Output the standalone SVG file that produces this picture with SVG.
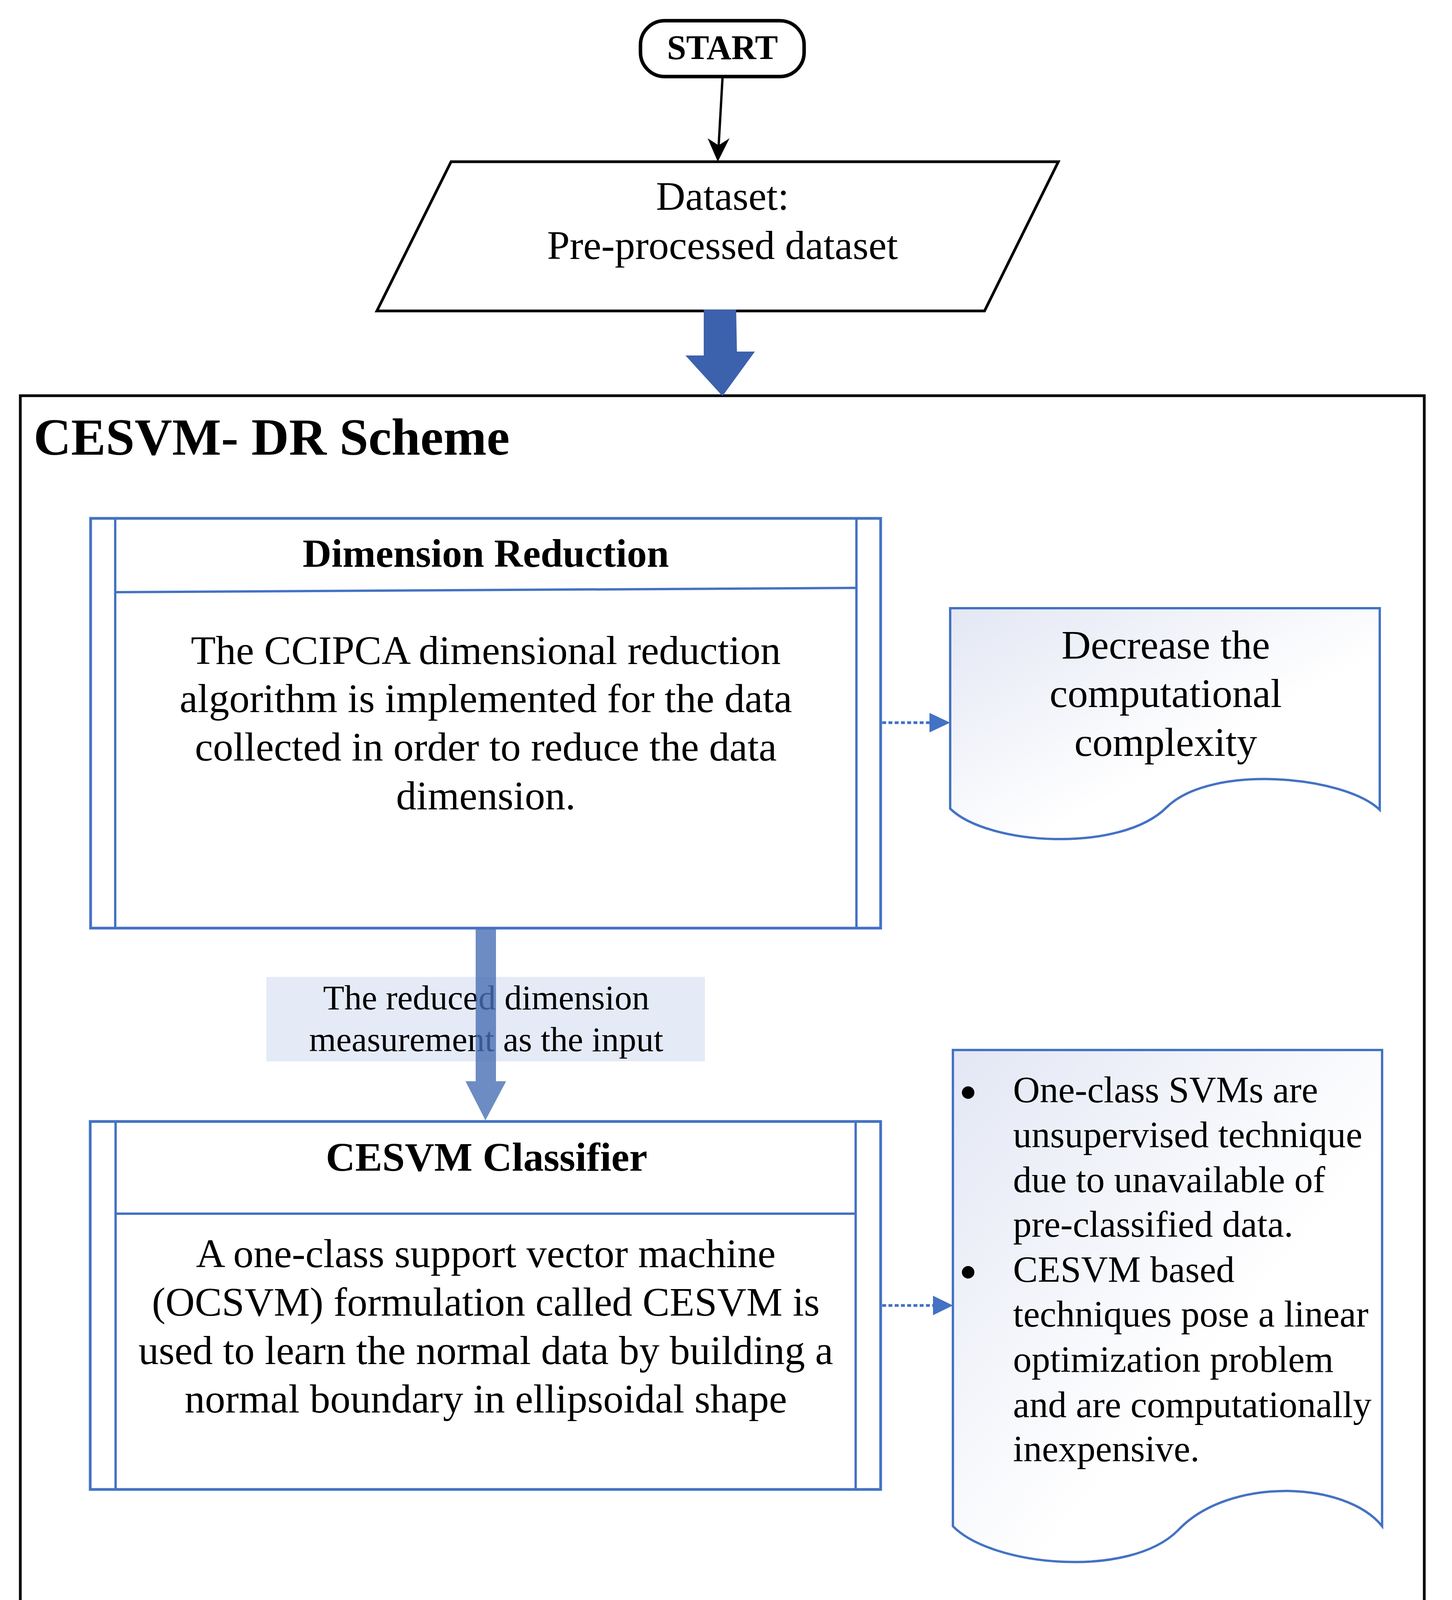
<svg xmlns="http://www.w3.org/2000/svg" width="3718" height="5249" viewBox="0 0 3718 5249">
<defs>
<linearGradient id="docGrad" x1="0" y1="0" x2="1" y2="1">
<stop offset="0" stop-color="#E3E7F4"/>
<stop offset="0.6" stop-color="#FFFFFF"/>
</linearGradient>
<style>
text { font-family: "Liberation Serif", "Times New Roman", serif; fill: #000; }
.b { font-weight: bold; }
.m { text-anchor: middle; }
.t104 { font-size: 104px; }
.blkbox { fill: #fff; stroke: #000; }
.bluebox { fill: #fff; stroke: #4472C4; stroke-width: 7; }
.blueline { fill: none; stroke: #4472C4; stroke-width: 6; }
.doc { fill: url(#docGrad); stroke: #4472C4; stroke-width: 6; }
.dot { fill: none; stroke: #4472C4; stroke-width: 7; stroke-dasharray: 10 6; }
.conn { fill: none; stroke: #000; }
.bluehead { fill: #4472C4; }
</style>
</defs>
<rect x="0" y="0" width="3718" height="5249" fill="#fff"/>

<g id="scheme">
<rect x="52" y="1013" width="3595" height="3204" fill="none" stroke="#000" stroke-width="7"/>
<text x="86" y="1164" class="b" font-size="133">CESVM- DR Scheme</text>
</g>

<g id="start">
<rect x="1640" y="53" width="419" height="143" rx="62" ry="62" class="blkbox" stroke-width="9"/>
<text x="1850" y="151" class="b m" font-size="88">START</text>
</g>

<g id="dataset">
<polygon points="1155,414 2710,414 2521,796 965,796" class="blkbox" stroke-width="7"/>
<text x="1850" y="537" class="m t104">Dataset:</text>
<text x="1850" y="663" class="m t104">Pre-processed dataset</text>
</g>

<g id="dimension-reduction">
<rect x="232" y="1327" width="2023" height="1049" class="bluebox"/>
<line x1="295" y1="1327" x2="295" y2="2376" class="blueline"/>
<line x1="2193" y1="1327" x2="2193" y2="2376" class="blueline"/>
<line x1="295" y1="1516" x2="2193" y2="1505" class="blueline" stroke-width="7"/>
<text x="1244" y="1451" class="b m" font-size="102">Dimension Reduction</text>
<text x="1244" y="1700" class="m t104">The CCIPCA dimensional reduction</text>
<text x="1244" y="1823" class="m t104">algorithm is implemented for the data</text>
<text x="1244" y="1947" class="m t104">collected in order to reduce the data</text>
<text x="1244" y="2072" class="m t104">dimension.</text>
</g>

<g id="decrease-note">
<path d="M2433,1557 L3533,1557 L3533,2073 C3440,1985 3100,1955 2987,2067 C2870,2184 2530,2165 2433,2070 Z" class="doc"/>
<text x="2985" y="1686" class="m t104">Decrease the</text>
<text x="2985" y="1810" class="m t104">computational</text>
<text x="2985" y="1935" class="m t104">complexity</text>
</g>

<g id="cesvm-classifier">
<rect x="231" y="2871" width="2024" height="942" class="bluebox"/>
<line x1="296" y1="2871" x2="296" y2="3813" class="blueline"/>
<line x1="2191" y1="2871" x2="2191" y2="3813" class="blueline"/>
<line x1="296" y1="3107" x2="2191" y2="3107" class="blueline" stroke-width="7"/>
<text x="1246" y="2997" class="b m" font-size="104">CESVM Classifier</text>
<text x="1244" y="3244" class="m t104">A one-class support vector machine</text>
<text x="1244" y="3368" class="m t104">(OCSVM) formulation called CESVM is</text>
<text x="1244" y="3492" class="m t104">used to learn the normal data by building a</text>
<text x="1244" y="3616" class="m t104">normal boundary in ellipsoidal shape</text>
</g>

<g id="svm-note">
<path d="M2440,2688 L3539,2688 L3539,3907 C3445,3790 3145,3780 3016,3918 C2891,4043 2540,4010 2440,3907 Z" class="doc"/>
<circle cx="2479" cy="2797" r="16" fill="#000"/>
<circle cx="2479" cy="3257" r="16" fill="#000"/>
<g font-size="95">
<text x="2594" y="2822">One-class SVMs are</text>
<text x="2594" y="2937">unsupervised technique</text>
<text x="2594" y="3052">due to unavailable of</text>
<text x="2594" y="3166">pre-classified data.</text>
<text x="2594" y="3282">CESVM based</text>
<text x="2594" y="3396">techniques pose a linear</text>
<text x="2594" y="3512">optimization problem</text>
<text x="2594" y="3628">and are computationally</text>
<text x="2594" y="3741">inexpensive.</text>
</g>
</g>

<g id="classification">
<polygon points="1850,4360 2407,4547 1850,4732 1290,4547" class="blkbox" stroke-width="9"/>
<text x="1853" y="4578" class="b m" font-size="87">Classification</text>
</g>

<g id="anomalies">
<rect x="2793" y="4312" width="747" height="471" class="blkbox" stroke-width="11"/>
<text x="3168" y="4525" class="b m" font-size="88">Anomalies</text>
<text x="3168" y="4632" class="b m" font-size="86">(Need Response)</text>
</g>

<g id="end">
<rect x="1629" y="5049" width="425" height="142" rx="62" ry="62" class="blkbox" stroke-width="10"/>
<text x="1843" y="5152" class="m" font-size="87">END</text>
</g>

<g id="connectors">
<line x1="1850" y1="200" x2="1840" y2="376" class="conn" stroke-width="6"/>
<path d="M1838,414 L1812,354 L1840,372 L1868,354 Z" fill="#000"/>
<polygon points="1802,793 1885,793 1887,900 1933,900 1850,1014 1755,910 1802,910" fill="#3C61AD"/>
<line x1="2259" y1="1850" x2="2382" y2="1850" class="dot"/>
<polygon points="2380,1825 2433,1850 2380,1875" class="bluehead"/>
<rect x="682" y="2501" width="1123" height="216" fill="#E4EAF6"/>
<text x="1245" y="2584" class="m" font-size="89">The reduced dimension</text>
<text x="1245" y="2691" class="m" font-size="89">measurement as the input</text>
<polygon points="1218,2376 1270,2376 1270,2768 1296,2768 1243,2868 1192,2768 1218,2768" fill="#4A6FB5" fill-opacity="0.8"/>
<line x1="2259" y1="3342" x2="2391" y2="3342" class="dot"/>
<polygon points="2389,3317 2440,3342 2389,3367" class="bluehead"/>
<line x1="1850" y1="4217" x2="1850" y2="4318" class="conn" stroke-width="7"/>
<polygon points="1824,4313 1876,4313 1850,4360" fill="#000"/>
<line x1="2407" y1="4550" x2="2745" y2="4550" class="conn" stroke-width="7"/>
<polygon points="2741,4524 2787,4550 2741,4576" fill="#000"/>
<text x="2609" y="4539" class="m" font-size="89">Yes</text>
<line x1="1850" y1="4732" x2="1842" y2="5000" class="conn" stroke-width="7"/>
<polygon points="1815,4995 1869,4995 1841,5042" fill="#000"/>
<text x="1863" y="4920" font-size="88">No</text>
</g>
</svg>
